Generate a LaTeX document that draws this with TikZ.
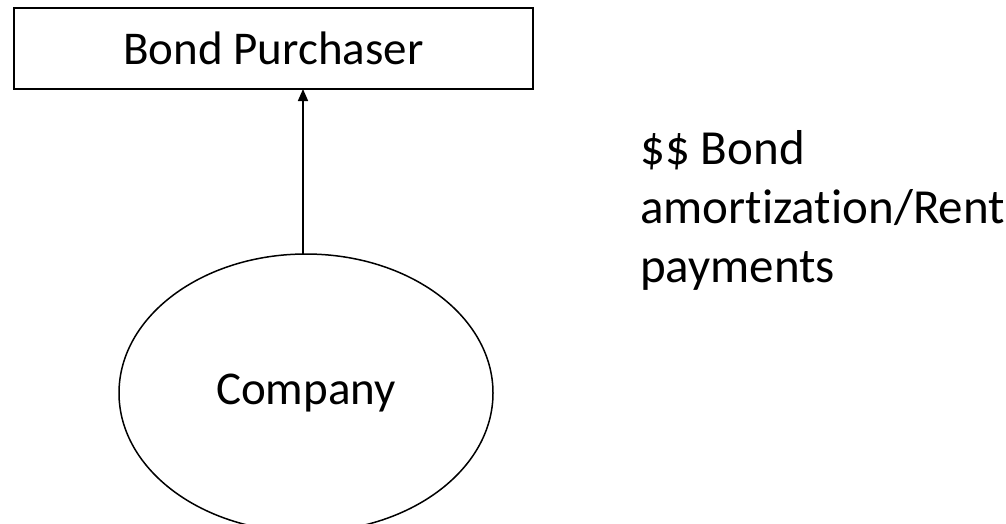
\documentclass[tikz,border=0pt]{standalone}
\usepackage{fontspec}
\setmainfont{Carlito}[Ligatures=NoCommon]
\usepackage{tikz}
\usetikzlibrary{arrows.meta,shapes.geometric,positioning}

\begin{document}
\begin{tikzpicture}[x=1pt,y=-1pt,font=\fontsize{47}{59}\selectfont]
    \tikzstyle{box}=[rectangle, draw=black, line width=1.6pt, minimum width=519pt, minimum height=81pt, inner sep=0pt]
    \tikzstyle{main}=[ellipse, draw=black, line width=1.5pt, minimum width=374pt, minimum height=278pt, inner sep=0pt]
    \tikzstyle{connect}=[-{Triangle[width=10pt,length=12pt]}, line width=1.6pt]
    \tikzstyle{note}=[align=left, inner sep=0pt, font=\fontsize{49}{59}\selectfont]

      \useasboundingbox (0,0) rectangle (1006,523);
      \node[box] (purchaser) at (273.5,48.5) {Bond Purchaser};
      \node[main] (company) at (306,393) {Company};
      \node[note, anchor=north west] (payments) at (640,130) {\$\$ Bond\\amortization/Rent\\payments};
      \coordinate (from) at (303,254);
      \coordinate (to) at (303,89);
      \path
        (from) edge [connect] (to);
    \end{tikzpicture}
\end{document}
